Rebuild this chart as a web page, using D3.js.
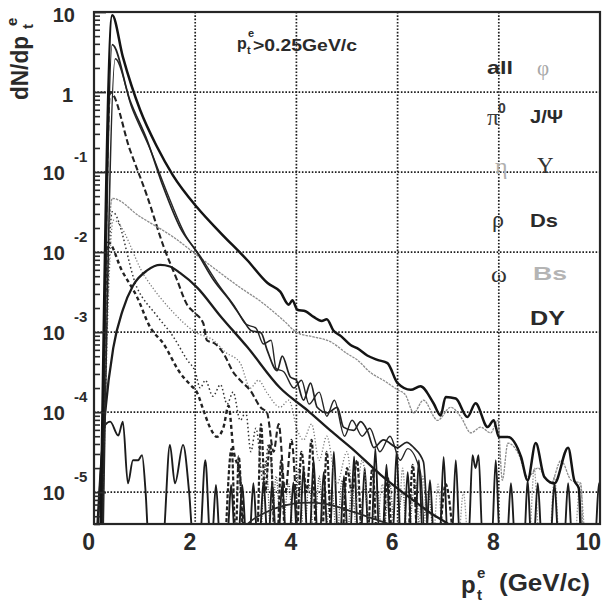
<!DOCTYPE html>
<html><head><meta charset="utf-8">
<script src="https://cdn.jsdelivr.net/npm/d3@7"></script>
<style>body{margin:0;background:#fff}svg{display:block}</style>
</head><body>
<script>
// ---------- data (x in GeV/c, y = dN/dpt) ----------
const xTicks = [0, 2, 4, 6, 8, 10];
const yTicks = [1e1, 1e0, 1e-1, 1e-2, 1e-3, 1e-4, 1e-5];
const yTickLabels = ["10", "1", "10|-1", "10|-2", "10|-3", "10|-4", "10|-5"];
const legendLabels = ["all", "φ", "π|0", "J/Ψ", "η", "Υ", "ρ", "Ds", "ω", "Bs", "DY"];

const allData = [[0.12,1e-6],[0.36,9.1],[0.57,2.75],[0.91,0.6],[1.25,0.204],[1.56,0.091],[2.04,0.036],[2.5,0.0174],[3.03,7.9e-3],[3.43,4.1e-3],[3.68,3.2e-3],[3.85,2.2e-3],[3.92,2.5e-3],[4.02,1.9e-3],[4.18,1.82e-3],[4.34,1.55e-3],[4.5,1.38e-3],[4.6,1.45e-3],[4.73,1.05e-3],[4.88,8.9e-4],[5.07,6.9e-4],[5.2,6.3e-4],[5.4,5.1e-4],[5.6,4.5e-4],[5.8,4.1e-4],[6.0,2.3e-4],[6.26,1.9e-4],[6.45,2.1e-4],[6.71,1.29e-4],[6.85,9.1e-5],[6.95,1.55e-4],[7.15,1.48e-4],[7.38,8.7e-5],[7.54,1.29e-4],[7.78,6.5e-5],[7.9,7.9e-5],[8.0,4.9e-5],[8.18,4.9e-5],[8.44,2.75e-5],[8.57,1.41e-5],[8.73,4.1e-5],[8.9,1.55e-5],[9.1,1.29e-5],[9.37,3.6e-5],[9.49,1.41e-5],[9.58,1.12e-5],[9.64,1e-6]];

const pi0Data = [[0.15,1e-6],[0.36,3.9],[0.71,0.79],[1.05,0.25],[1.37,0.065],[1.7,0.0204],[2.04,9.8e-3],[2.36,4.5e-3],[2.7,2.4e-3],[2.95,1.41e-3],[3.1,1.05e-3],[3.3,9.8e-4],[3.42,6.0e-4],[3.62,3.3e-4],[3.72,5.0e-4],[3.88,2.75e-4],[4.0,2.5e-4],[4.14,1.41e-4],[4.28,2.3e-4],[4.41,1.15e-4],[4.61,9.8e-5],[4.81,1.15e-4],[4.93,6.5e-5],[5.13,5.9e-5],[5.27,7.6e-5],[5.4,5.9e-5],[5.53,3.6e-5],[5.72,4.5e-5],[6.0,3.6e-5],[6.18,4.2e-5],[6.32,3.6e-5],[6.51,2.4e-5],[6.62,1e-6]];

const dsData = [[0.17,1e-6],[0.42,2.6],[0.75,0.63],[1.1,0.2],[1.45,0.054],[1.8,0.0166],[2.1,8.9e-3],[2.45,4.0e-3],[2.8,2.0e-3],[3.0,1.26e-3],[3.2,1.12e-3],[3.35,7.1e-4],[3.5,7.9e-4],[3.6,3.5e-4],[3.75,3.2e-4],[3.95,2.0e-4],[4.1,2.5e-4],[4.25,1.26e-4],[4.45,1.78e-4],[4.6,8.9e-5],[4.75,1.41e-4],[4.95,5.0e-5],[5.1,7.9e-5],[5.3,5.0e-5],[5.45,6.3e-5],[5.65,3.2e-5],[5.85,5.0e-5],[6.05,2.5e-5],[6.2,3.5e-5],[6.45,1.78e-5],[6.55,1e-6]];

const jpsiData = [[0.06,3.2e-6],[0.12,1.41e-5],[0.22,9.8e-5],[0.38,6.3e-4],[0.57,1.9e-3],[0.77,3.8e-3],[1.05,5.9e-3],[1.31,6.9e-3],[1.5,6.6e-3],[1.7,5.5e-3],[2.04,3.6e-3],[2.5,1.58e-3],[3.03,6.5e-4],[3.68,2.0e-4],[4.22,1.05e-4],[4.67,5.9e-5],[5.1,3.5e-5],[5.66,1.66e-5],[6.2,8.9e-6],[6.65,5.5e-6],[7.05,3.8e-6],[7.3,2.8e-6]];

const upsilonData = [[2.8,2.5e-6],[3.0,3.8e-6],[3.4,5.6e-6],[3.8,6.9e-6],[4.2,7.4e-6],[4.6,7.1e-6],[5.0,6.0e-6],[5.5,4.7e-6],[6.0,3.6e-6],[6.4,2.5e-6]];

const bsData = [[0.12,1e-6],[0.36,0.047],[0.9,0.028],[1.56,0.0155],[2.2,7.6e-3],[2.89,3.6e-3],[3.3,2.4e-3],[3.74,1.41e-3],[4.02,9.8e-4],[4.34,8.7e-4],[4.67,7.6e-4],[5.0,5.4e-4],[5.2,4.5e-4],[5.47,3.1e-4],[5.72,2.5e-4],[6.0,1.9e-4],[6.15,1.66e-4],[6.32,9.8e-5],[6.51,1.41e-4],[6.79,7.9e-5],[7.05,1.15e-4],[7.25,8.7e-5],[7.45,5.5e-5],[7.64,6.5e-5],[7.84,5.5e-5],[7.98,7.9e-5],[8.07,1.41e-5],[8.18,4.1e-5],[8.38,3.1e-5],[8.57,1.55e-5],[8.77,2.0e-5],[9.03,1.29e-5],[9.23,2.5e-5],[9.43,1.41e-5],[9.62,1.29e-5],[9.68,1e-6]];

const etaData = [[0.15,1e-6],[0.32,1.0],[0.71,0.19],[1.05,0.05],[1.37,0.012],[1.64,4.5e-3],[1.84,2.2e-3],[1.97,1.78e-3],[2.16,1.29e-3],[2.23,7.9e-4],[2.4,7.1e-4],[2.56,5.4e-4],[2.76,3.1e-4],[2.89,2.5e-4],[3.09,1.86e-4],[3.29,1.15e-4],[3.42,9.8e-5],[3.55,3.2e-5],[3.65,7.1e-5],[3.78,1e-5],[3.9,4.5e-5],[4.02,2.5e-6]];

const omegaData = [[0.15,1e-6],[0.28,0.0132],[0.55,5.9e-3],[0.85,2.75e-3],[1.11,1.15e-3],[1.37,7.2e-4],[1.7,3.1e-4],[1.9,2.2e-4],[2.04,1.74e-4],[2.16,1.07e-4],[2.3,6.3e-5],[2.43,4.9e-5],[2.56,6.5e-5],[2.66,1.2e-4],[2.75,3.6e-5],[2.89,1.41e-5],[2.97,2.5e-6]];

const rhoData = [[0.15,1e-6],[0.36,0.032],[0.85,3.6e-3],[1.25,1.58e-3],[1.56,8.9e-4],[1.84,4.5e-4],[2.0,3.2e-4],[2.1,2.0e-4],[2.2,2.5e-4],[2.35,1.58e-4],[2.5,2.2e-4],[2.63,1.26e-4],[2.75,1.78e-4],[2.89,7.9e-5],[3.0,1.0e-4],[3.1,3.2e-5],[3.2,6.3e-5],[3.35,1.26e-5],[3.45,4.0e-5],[3.58,2.5e-6]];

const phiData = [[0.15,1e-6],[0.38,0.025],[1.0,5.0e-3],[1.56,1.78e-3],[2.0,1.0e-3],[2.36,7.9e-4],[2.6,5.6e-4],[2.89,4.1e-4],[3.09,2.0e-4],[3.25,2.5e-4],[3.42,1.74e-4],[3.68,1.15e-4],[3.85,1.41e-4],[4.02,5.9e-5],[4.14,4.5e-5],[4.3,7.1e-5],[4.45,2.5e-5],[4.6,5.0e-5],[4.8,1.26e-5],[5.0,3.2e-5],[5.15,6.3e-6],[5.3,2.5e-5],[5.45,2.5e-6]];

const dyData = [[0.04,1e-6],[0.22,6.9e-5],[0.32,7.6e-5],[0.48,5.1e-5],[0.57,7.6e-5],[0.67,1.29e-5],[0.77,2.5e-5],[0.87,2.5e-5],[0.95,2.9e-5],[1.02,1e-5],[1.08,2.5e-6],[1.36,2.5e-6],[1.5,3.9e-5],[1.6,1.29e-5],[1.76,3.9e-5],[1.88,1e-5],[1.96,2.5e-6],[2.09,2.5e-6],[2.2,2.5e-5],[2.3,2.5e-6],[2.33,2.5e-6],[2.41,1.23e-5],[2.49,2.5e-6],[2.63,2.5e-6],[2.71,1.23e-5],[2.79,2.5e-6],[2.85,2.5e-6],[2.93,1.23e-5],[3.01,2.5e-6],[3.07,2.5e-6],[3.15,1.29e-5],[3.23,2.5e-6],[3.27,2.5e-6],[3.35,1.38e-5],[3.43,2.5e-6],[3.45,2.5e-6],[3.52,1.32e-5],[3.6,2.5e-6],[3.64,2.5e-6],[3.72,1.26e-5],[3.8,2.5e-6],[3.86,2.5e-6],[3.94,1.32e-5],[4.02,2.5e-6],[4.06,2.5e-6],[4.14,2.0e-5],[4.22,2.5e-6],[4.26,2.5e-6],[4.34,2.5e-5],[4.42,2.5e-6],[4.46,2.5e-6],[4.54,1.78e-5],[4.62,2.5e-6],[4.66,2.5e-6],[4.74,3.2e-5],[4.82,2.5e-6],[4.86,2.5e-6],[4.94,1.58e-5],[5.02,2.5e-6],[5.06,2.5e-6],[5.14,2.8e-5],[5.22,2.5e-6],[5.27,2.5e-6],[5.35,2.0e-5],[5.43,2.5e-6],[5.48,2.5e-6],[5.56,3.5e-5],[5.64,2.5e-6],[5.7,2.5e-6],[5.78,2.2e-5],[5.86,2.5e-6],[5.9,2.5e-6],[5.98,3.2e-5],[6.06,2.5e-6],[6.12,2.5e-6],[6.2,1.78e-5],[6.28,2.5e-6],[6.34,2.5e-6],[6.42,2.5e-5],[6.5,2.5e-6],[6.56,2.5e-6],[6.64,1.41e-5],[6.72,2.5e-6],[6.83,2.5e-6],[6.91,2.75e-5],[6.99,2.5e-6],[7.07,2.5e-6],[7.15,2.5e-5],[7.23,2.5e-6],[7.4,2.5e-6],[7.48,2.9e-5],[7.54,2.0e-5],[7.6,2.9e-5],[7.68,2.5e-6],[7.86,2.5e-6],[7.94,2.5e-5],[8.02,2.5e-6],[8.16,2.5e-6],[8.24,1.29e-5],[8.32,2.5e-6],[8.5,2.5e-6],[8.57,1.41e-5],[8.64,2.5e-6],[8.69,2.5e-6],[8.77,1.29e-5],[8.85,2.5e-6],[9.02,2.5e-6],[9.1,1.29e-5],[9.18,2.5e-6],[9.29,2.5e-6],[9.37,1.29e-5],[9.45,2.5e-6],[9.9,2.5e-6],[9.98,1.29e-5],[10.06,2.5e-6]];

const omegaTail = [[2.6,2.5e-6],[2.72,3.5e-5],[2.8,2.5e-6],[2.86,2.8e-5],[2.96,2.5e-6],[3.22,2.5e-6],[3.3,7.1e-5],[3.38,1e-5],[3.48,4.0e-5],[3.58,2.5e-6],[3.62,2.5e-6],[3.7,2.5e-5],[3.78,2.5e-6],[4.0,2.5e-6],[4.1,3.2e-5],[4.2,1e-5],[4.3,4.5e-5],[4.4,2.5e-6],[4.5,2.5e-6],[4.6,3.2e-5],[4.7,2.5e-6],[4.9,2.5e-6],[5.0,2.0e-5],[5.1,1e-5],[5.2,2.5e-5],[5.3,2.5e-6],[5.4,2.5e-6],[5.5,2.0e-5],[5.6,2.5e-6],[5.7,2.5e-6],[5.8,1.58e-5],[5.9,2.5e-6],[6.2,2.5e-6],[6.3,2.2e-5],[6.4,2.5e-6],[6.8,2.5e-6],[6.95,1.26e-5],[7.1,2.5e-6]];

const bsTail = [[5.6,2.5e-6],[5.7,1.26e-5],[5.8,2.5e-6],[6.0,2.5e-6],[6.1,2.0e-5],[6.2,2.5e-6],[6.4,2.5e-6],[6.5,1.58e-5],[6.6,2.5e-6],[6.7,2.5e-6],[6.8,1.26e-5],[6.9,2.5e-6],[7.2,2.5e-6],[7.3,1e-5],[7.4,2.5e-6],[8.6,2.5e-6],[8.7,2.0e-5],[8.8,2.5e-6],[9.0,2.5e-6],[9.1,1.58e-5],[9.2,2.5e-6],[9.5,2.5e-6],[9.6,1.26e-5],[9.7,2.5e-6]];

const rhoTail = [[3.3,2.5e-6],[3.4,2.5e-5],[3.5,2.5e-6],[3.6,1.58e-5],[3.7,2.5e-6],[3.85,1.26e-5],[3.95,2.5e-6],[4.05,2.0e-5],[4.15,2.5e-6],[4.25,1.26e-5],[4.35,2.5e-6],[4.45,1.58e-5],[4.55,2.5e-6],[4.7,1.12e-5],[4.8,2.5e-6],[4.9,1.41e-5],[5.0,2.5e-6],[5.1,1.26e-5],[5.2,2.5e-6],[5.35,1.12e-5],[5.45,2.5e-6],[5.6,1e-5],[5.7,2.5e-6],[5.85,1.26e-5],[5.95,2.5e-6],[6.1,1e-5],[6.2,2.5e-6],[6.35,1.41e-5],[6.45,2.5e-6],[6.6,1e-5],[6.7,2.5e-6]];

// ---------- chart ----------
const W = 614, H = 605;
const SANS = "'Liberation Sans', Arial, Helvetica, sans-serif";
const SERIF = "'Liberation Serif', 'DejaVu Serif', serif";
const svg = d3.select("body").append("svg").attr("width", W).attr("height", H)
  .attr("font-family", SANS);

const x = d3.scaleLinear().domain([0, 10]).range([94, 600]);
const y = d3.scaleLog().domain([4e-6, 10]).range([524, 12]);
const [x0, x1] = x.range(), [yb, yt] = y.range();

// grid
const grid = svg.append("g").attr("stroke", "#1e1e1e").attr("stroke-width", 1.7)
  .attr("stroke-dasharray", "1.6,1.7");
grid.selectAll("line.v").data(xTicks.slice(1, -1)).join("line")
  .attr("x1", d => x(d)).attr("x2", d => x(d)).attr("y1", yt).attr("y2", yb);
grid.selectAll("line.h").data(yTicks.slice(1)).join("line")
  .attr("x1", x0).attr("x2", x1).attr("y1", d => y(d)).attr("y2", d => y(d));

// clip
svg.append("clipPath").attr("id", "clip").append("rect")
  .attr("x", x0).attr("y", yt).attr("width", x1 - x0).attr("height", yb - yt);
const plot = svg.append("g").attr("clip-path", "url(#clip)").attr("fill", "none")
  .attr("stroke-linejoin", "round");

const line = d3.line().x(d => x(d[0])).y(d => y(d[1])).curve(d3.curveMonotoneX);

const curves = [
  {d: bsTail,     c: "#9a9a9a", w: 1.3, dash: "1.5,1.5"},
  {d: rhoTail,    c: "#444",    w: 1.3, dash: "1,1.6"},
  {d: omegaTail,  c: "#222",    w: 2.2, dash: "4,2"},
  {d: dyData,     c: "#1c1c1c", w: 1.9, dash: null},
  {d: upsilonData,c: "#2a2a2a", w: 1.7, dash: null},
  {d: phiData,    c: "#777",    w: 1.3, dash: "1.2,2"},
  {d: rhoData,    c: "#333",    w: 1.5, dash: "1.5,2.5"},
  {d: omegaData,  c: "#222",    w: 2.4, dash: "4,3"},
  {d: etaData,    c: "#222",    w: 2.1, dash: "6,3"},
  {d: bsData,     c: "#8c8c8c", w: 1.3, dash: "2.5,1"},
  {d: jpsiData,   c: "#1c1c1c", w: 2.3, dash: null},
  {d: dsData,     c: "#262626", w: 1.4, dash: null},
  {d: pi0Data,    c: "#222",    w: 1.7, dash: null},
  {d: allData,    c: "#141414", w: 2.5, dash: null}
];
plot.selectAll("path").data(curves).join("path")
  .attr("d", s => line(s.d)).attr("stroke", s => s.c).attr("stroke-width", s => s.w)
  .attr("stroke-dasharray", s => s.dash);

// frame
svg.append("rect").attr("x", x0).attr("y", yt).attr("width", x1 - x0).attr("height", yb - yt)
  .attr("fill", "none").attr("stroke", "#262626").attr("stroke-width", 2.2);

// left axis ticks (inside)
const minor = y.ticks().filter(v => !yTicks.includes(v));
svg.append("g").attr("transform", `translate(${x0},0)`)
  .call(d3.axisRight(y).tickValues(minor).tickSize(6).tickFormat(""))
  .call(g => g.select(".domain").remove())
  .selectAll("line").attr("stroke", "#2a2a2a").attr("stroke-width", 1.6);
svg.append("g").attr("transform", `translate(${x0},0)`)
  .call(d3.axisRight(y).tickValues(yTicks).tickSize(12).tickFormat(""))
  .call(g => g.select(".domain").remove())
  .selectAll("line").attr("stroke", "#2a2a2a").attr("stroke-width", 1.8);

// y tick labels
const yl = svg.append("g").attr("font-weight", "bold").attr("fill", "#2a2a2a");
yTicks.forEach((v, i) => {
  const parts = yTickLabels[i].split("|");
  if (parts.length === 1) {
    yl.append("text").attr("x", v === 1 ? 73 : 75).attr("y", y(v) + 10)
      .attr("text-anchor", "end").attr("font-size", 20).text(parts[0]);
  } else {
    yl.append("text").attr("x", 65).attr("y", y(v) + 8)
      .attr("text-anchor", "end").attr("font-size", 20).text(parts[0]);
    yl.append("text").attr("x", 74).attr("y", y(v) - 10)
      .attr("font-size", 15).text(parts[1]);
  }
});

// x tick labels
svg.append("g").attr("font-weight", "bold").attr("fill", "#2a2a2a")
  .selectAll("text").data(xTicks).join("text")
  .attr("x", d => x(d) + 1).attr("y", 550).attr("text-anchor", "end")
  .attr("font-size", 23).text(d => d);

// axis titles
const bold = svg.append("g").attr("font-weight", "bold").attr("fill", "#2a2a2a");
const yTitle = bold.append("g").attr("transform", "translate(28,100) rotate(-90)");
yTitle.append("text").attr("x", 0).attr("y", 0).attr("font-size", 24)
  .attr("textLength", 64).attr("lengthAdjust", "spacingAndGlyphs").text("dN/dp");
yTitle.append("text").attr("x", 74).attr("y", -11).attr("font-size", 15).text("e");
yTitle.append("text").attr("x", 71).attr("y", 5).attr("font-size", 15).text("t");

bold.append("text").attr("x", 461).attr("y", 593).attr("font-size", 24).text("p");
bold.append("text").attr("x", 477).attr("y", 578).attr("font-size", 15).text("e");
bold.append("text").attr("x", 477).attr("y", 600).attr("font-size", 15).text("t");
bold.append("text").attr("x", 499).attr("y", 591).attr("font-size", 24)
  .attr("textLength", 91).attr("lengthAdjust", "spacingAndGlyphs").text("(GeV/c)");

// cut annotation
bold.append("text").attr("x", 237).attr("y", 49).attr("font-size", 16).text("p");
bold.append("text").attr("x", 248).attr("y", 37).attr("font-size", 11).text("e");
bold.append("text").attr("x", 247).attr("y", 54).attr("font-size", 11).text("t");
bold.append("text").attr("x", 253).attr("y", 51).attr("font-size", 16)
  .attr("textLength", 104).attr("lengthAdjust", "spacingAndGlyphs").text(">0.25GeV/c");

// legend labels (text only, as in the original)
const legendLayout = [
  {x: 487, y: 74,  f: SANS,  s: 19, b: true,  c: "#2a2a2a", w: 26},
  {x: 537, y: 75,  f: SERIF, s: 21, b: false, c: "#a8a8a8"},
  {x: 487, y: 125, f: SERIF, s: 24, b: false, c: "#3a3a3a"},
  {x: 530, y: 123, f: SANS,  s: 19, b: true,  c: "#2a2a2a", w: 33},
  {x: 495, y: 174, f: SERIF, s: 24, b: false, c: "#b0b0b0"},
  {x: 537, y: 173, f: SERIF, s: 23, b: false, c: "#333"},
  {x: 492, y: 227, f: SERIF, s: 24, b: false, c: "#333"},
  {x: 530, y: 227, f: SANS,  s: 19, b: true,  c: "#2a2a2a", w: 28},
  {x: 491, y: 282, f: SERIF, s: 24, b: false, c: "#333"},
  {x: 533, y: 280, f: SANS,  s: 19, b: true,  c: "#b4b4b4", w: 34},
  {x: 530, y: 325, f: SANS,  s: 20, b: true,  c: "#2a2a2a", w: 35}
];
const leg = svg.append("g");
legendLabels.forEach((lab, i) => {
  const L = legendLayout[i];
  const parts = lab.split("|");
  const t = leg.append("text").attr("x", L.x).attr("y", L.y).attr("font-family", L.f)
    .attr("font-size", L.s).attr("font-weight", L.b ? "bold" : "normal").attr("fill", L.c)
    .text(parts[0]);
  if (L.w) t.attr("textLength", L.w).attr("lengthAdjust", "spacingAndGlyphs");
  if (parts[1]) {
    leg.append("text").attr("x", L.x + 11).attr("y", L.y - 12).attr("font-family", SANS)
      .attr("font-size", 14).attr("font-weight", "bold").attr("fill", L.c).text(parts[1]);
  }
});
</script>
</body></html>
